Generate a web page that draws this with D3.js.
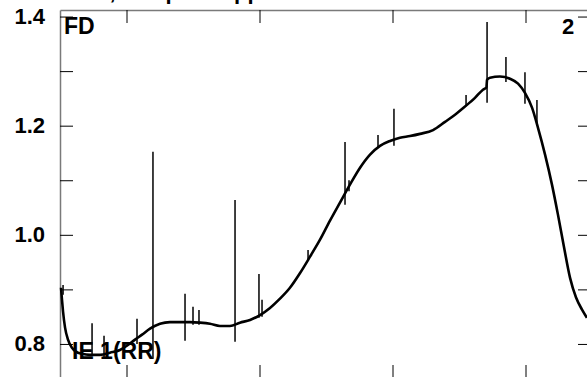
<!DOCTYPE html>
<html><head><meta charset="utf-8">
<script src="https://cdn.jsdelivr.net/npm/d3@7"></script>
<style>body{margin:0;background:#fff}svg{display:block}</style>
</head><body>
<svg id="c" width="587" height="377"></svg>
<script>
// ---- data ----
const titleText = "FD 2 trace, low-pass applied";
const cornerLeft = "FD";
const cornerRight = "2";
const traceLabel = "IE 1(RR)";
const xTicks = [50, 150, 250, 350];
const yTicks = [0.8, 0.9, 1.0, 1.1, 1.2, 1.3, 1.4];
const yLabelTicks = [0.8, 1.0, 1.2, 1.4];

const traceX = [0.75, 1.5, 2.3, 3.8, 6.0, 9.0, 12.0, 16.5, 22.6, 30.1, 37.6, 45.1, 51.1, 56.4, 61.7, 67.7,
  75.2, 82.7, 90.2, 97.7, 105.3, 112.8, 120.3, 127.8, 135.3, 142.9, 150.4, 157.9, 165.4, 172.9, 180.5,
  188.0, 195.5, 203.0, 210.5, 218.0, 225.6, 233.1, 240.6, 248.1, 255.6, 263.2, 270.7, 280.5, 289.5,
  297.0, 304.5, 312.0, 318.0, 320.6, 321.1, 323.3, 330.8, 338.3, 344.4, 349.6, 354.9, 359.4, 364.7, 369.9,
  374.4, 378.9, 383.5, 388.0, 392.5, 396.2];
const traceY = [0.903, 0.881, 0.859, 0.830, 0.808, 0.793, 0.786, 0.782, 0.780, 0.780, 0.784, 0.789, 0.798,
  0.808, 0.817, 0.828, 0.837, 0.840, 0.840, 0.840, 0.839, 0.837, 0.833, 0.833, 0.839, 0.844, 0.853,
  0.866, 0.883, 0.903, 0.930, 0.960, 0.991, 1.026, 1.059, 1.092, 1.123, 1.147, 1.163, 1.172, 1.178,
  1.181, 1.185, 1.192, 1.207, 1.220, 1.235, 1.251, 1.266, 1.270, 1.284, 1.288, 1.290, 1.286, 1.277, 1.260,
  1.233, 1.196, 1.147, 1.092, 1.037, 0.978, 0.921, 0.885, 0.863, 0.848];

const spikeX    = [2.3, 24.1, 33.1, 57.9, 69.9, 94.0, 100.0, 104.5, 131.6, 149.6, 151.9, 186.5, 214.3, 217.3, 239.1, 251.1, 305.3, 321.1, 335.3, 349.6, 358.6];
const spikeTop  = [0.908, 0.838, 0.815, 0.846, 1.152, 0.892, 0.868, 0.862, 1.064, 0.928, 0.881, 0.972, 1.170, 1.100, 1.183, 1.231, 1.256, 1.390, 1.326, 1.298, 1.247];
const spikeBase = [0.890, 0.780, 0.773, 0.800, 0.773, 0.806, 0.835, 0.835, 0.804, 0.848, 0.850, 0.955, 1.055, 1.080, 1.160, 1.163, 1.235, 1.242, 1.280, 1.240, 1.200];

// ---- chart ----
const svg = d3.select("#c");
const x = d3.scaleLinear().domain([0, 400]).range([60, 592]);
const y = d3.scaleLinear().domain([0.7376, 1.412]).range([378, 10]);
const FONT = "Liberation Sans, Arial, sans-serif";

// title (cut off by the top edge, as in the reference)
svg.append("text").attr("x", 3).attr("y", -1).attr("font-family", FONT).attr("font-weight", "bold")
  .attr("font-size", 22).attr("fill", "#000").text(titleText);

function styleAxis(g) {
  g.select(".domain").attr("stroke", "#7a7a7a").attr("stroke-width", 1.5);
  g.selectAll(".tick line").attr("stroke", "#000");
}

svg.append("g").attr("transform", "translate(60,0)")
  .call(d3.axisLeft(y).tickValues(yTicks).tickSize(-13).tickSizeOuter(0).tickPadding(15)
    .tickFormat(d => yLabelTicks.some(v => Math.abs(v - d) < 1e-9) ? d3.format(".1f")(d) : ""))
  .call(styleAxis)
  .call(g => g.selectAll(".tick text").attr("font-family", FONT).attr("font-weight", "bold")
    .attr("font-size", 22).attr("fill", "#000"));

svg.append("g").attr("transform", "translate(591,0)")
  .call(d3.axisRight(y).tickValues(yTicks).tickSize(-13).tickSizeOuter(0).tickFormat(""))
  .call(styleAxis);

svg.append("g").attr("transform", "translate(0,10)")
  .call(d3.axisTop(x).tickValues(xTicks).tickSize(-13).tickSizeOuter(0).tickFormat(""))
  .call(styleAxis);

svg.append("g").attr("transform", "translate(0,378)")
  .call(d3.axisBottom(x).tickValues(xTicks).tickSize(-13).tickSizeOuter(0).tickFormat(""))
  .call(styleAxis);

// texts
svg.append("text").attr("x", 64).attr("y", 34).attr("font-family", FONT).attr("font-weight", "bold")
  .attr("font-size", 23).text(cornerLeft);
svg.append("text").attr("x", 562).attr("y", 34).attr("font-family", FONT).attr("font-weight", "bold")
  .attr("font-size", 22).text(cornerRight);
svg.append("text").attr("x", 72).attr("y", 359).attr("font-family", FONT).attr("font-weight", "bold")
  .attr("font-size", 23).text(traceLabel);

// spikes
svg.append("g").selectAll("line").data(spikeX).join("line")
  .attr("x1", d => x(d)).attr("x2", d => x(d))
  .attr("y1", (d, i) => y(spikeTop[i])).attr("y2", (d, i) => y(spikeBase[i]))
  .attr("stroke", "#000").attr("stroke-width", 1.5);

// trace
const pts = traceX.map((d, i) => [d, traceY[i]]);
svg.append("path").datum(pts)
  .attr("d", d3.line().x(d => x(d[0])).y(d => y(d[1])).curve(d3.curveMonotoneX))
  .attr("fill", "none").attr("stroke", "#000").attr("stroke-width", 2.6).attr("stroke-linejoin", "round");
</script>
</body></html>
